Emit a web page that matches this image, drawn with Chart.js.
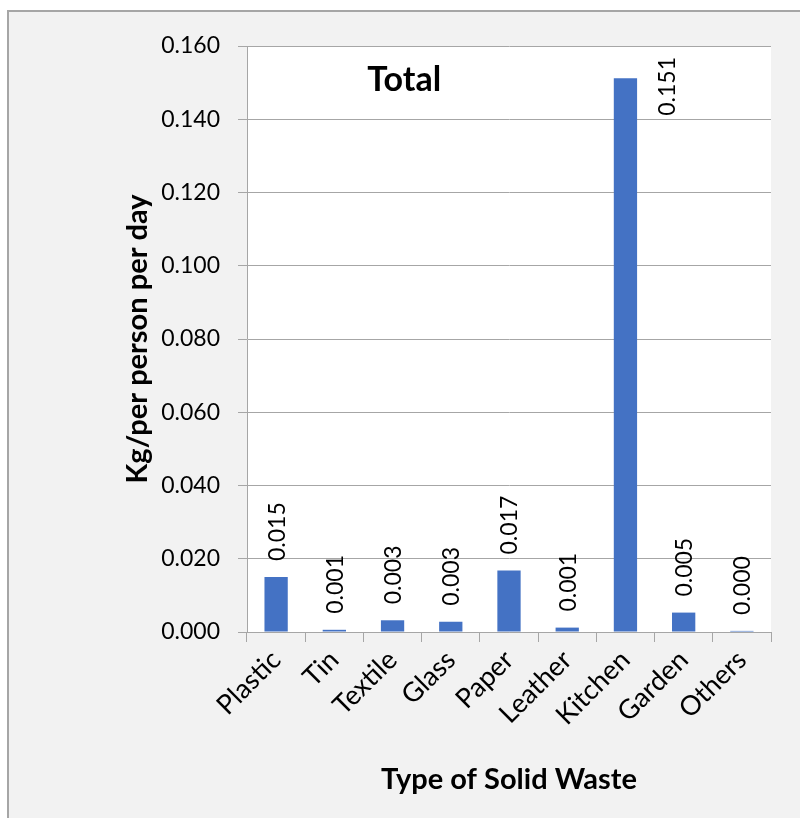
<!DOCTYPE html>
<html>
<head>
<meta charset="utf-8">
<script src="https://cdn.jsdelivr.net/npm/chart.js@4.4.1/dist/chart.umd.min.js"></script>
<style>
  html, body { margin: 0; padding: 0; background: #ffffff; overflow: hidden; }
  #frame {
    position: absolute; left: 7px; top: 10px; width: 810px; height: 820px;
    background: #f2f2f2; border-left: 2px solid #a6a6a6; border-top: 2px solid #a6a6a6;
    box-sizing: border-box;
  }
  #plotBg { position: absolute; background: #ffffff; }
  canvas { position: absolute; left: 0; top: 0; }
</style>
</head>
<body>
<div id="frame"></div>
<div id="plotBg"></div>
<canvas id="chart" width="800" height="818"></canvas>
<script>
// Solid waste generation per person, by waste type
const categories = ['Plastic', 'Tin', 'Textile', 'Glass', 'Paper', 'Leather', 'Kitchen', 'Garden', 'Others'];
const kgPerPersonPerDay = [0.0150, 0.0006, 0.0032, 0.0028, 0.0168, 0.0012, 0.1512, 0.0053, 0.0003];
const yMin = 0;
const yMax = 0.16;
const yStep = 0.02;
const chartTitle = 'Total';
const yTitle = 'Kg/per person per day';
const xTitle = 'Type of Solid Waste';

const FONT = 'Lato, "Open Sans", sans-serif';

// White plot background behind the canvas, sized to the chart area
const plotBackground = {
  id: 'plotBackground',
  afterLayout(chart) {
    const a = chart.chartArea;
    const bg = document.getElementById('plotBg');
    bg.style.left = a.left + 'px';
    bg.style.top = a.top + 'px';
    bg.style.width = (a.right - a.left) + 'px';
    bg.style.height = (a.bottom - a.top) + 'px';
  }
};

// Value labels above each bar, rotated; moved beside the bar when there is no room above
const valueLabels = {
  id: 'valueLabels',
  afterDatasetsDraw(chart) {
    const ctx = chart.ctx;
    const area = chart.chartArea;
    const meta = chart.getDatasetMeta(0);
    const values = chart.data.datasets[0].data;
    ctx.save();
    ctx.font = '23px ' + FONT;
    ctx.fillStyle = '#000000';
    ctx.textBaseline = 'middle';
    meta.data.forEach((bar, i) => {
      const text = values[i].toFixed(3);
      const w = ctx.measureText(text).width;
      let x = bar.x + 1;
      let yStart = bar.y - 16;
      if (yStart - w < area.top + 8) {
        x = bar.x + bar.width / 2 + 30;
        yStart = area.top + 11 + w;
      }
      ctx.save();
      ctx.translate(x, yStart);
      ctx.rotate(-Math.PI / 2);
      ctx.textAlign = 'left';
      ctx.fillText(text, 0, 0);
      ctx.restore();
    });
    ctx.restore();
  }
};

// Chart caption placed inside the plot area
const innerTitle = {
  id: 'innerTitle',
  afterDraw(chart) {
    const ctx = chart.ctx;
    const area = chart.chartArea;
    ctx.save();
    ctx.font = 'bold 34px ' + FONT;
    ctx.fillStyle = '#000000';
    ctx.textAlign = 'center';
    ctx.textBaseline = 'middle';
    ctx.fillText(chartTitle, area.left + (area.right - area.left) * 0.30, area.top + 34);
    ctx.restore();
  }
};

const gridColor = '#a6a6a6';

new Chart(document.getElementById('chart'), {
  type: 'bar',
  data: {
    labels: categories,
    datasets: [{
      data: kgPerPersonPerDay,
      backgroundColor: '#4472c4',
      borderWidth: 0,
      categoryPercentage: 1.0,
      barPercentage: 0.4
    }]
  },
  options: {
    responsive: false,
    animation: false,
    devicePixelRatio: 1,
    layout: { padding: { left: 0, top: 46, right: 29, bottom: 0 } },
    plugins: {
      legend: { display: false },
      tooltip: { enabled: false },
      title: { display: false }
    },
    scales: {
      x: {
        grid: {
          display: true,
          offset: true,
          drawOnChartArea: false,
          drawTicks: true,
          tickLength: 10,
          color: gridColor
        },
        border: { display: true, color: gridColor, width: 1 },
        ticks: {
          color: '#000000',
          font: { family: FONT, size: 27 },
          minRotation: 45,
          maxRotation: 45,
          padding: 2
        },
        title: {
          display: true,
          text: xTitle,
          color: '#000000',
          font: { family: FONT, size: 29, weight: 'bold' },
          padding: { top: 0, bottom: 21 }
        },
        afterFit(scale) { scale.height = 818 - 632; }
      },
      y: {
        min: yMin,
        max: yMax,
        ticks: {
          stepSize: yStep,
          color: '#000000',
          font: { family: FONT, size: 23 },
          padding: 18,
          callback: (v) => Number(v).toFixed(3)
        },
        grid: {
          color: gridColor,
          drawTicks: true,
          tickLength: 9
        },
        border: { display: true, color: gridColor, width: 1 },
        title: {
          display: true,
          text: yTitle,
          color: '#000000',
          font: { family: FONT, size: 29, weight: 'bold' },
          padding: { top: 120, bottom: 0 }
        },
        afterFit(scale) { scale.width = 247; }
      }
    }
  },
  plugins: [plotBackground, valueLabels, innerTitle]
});
</script>
</body>
</html>
